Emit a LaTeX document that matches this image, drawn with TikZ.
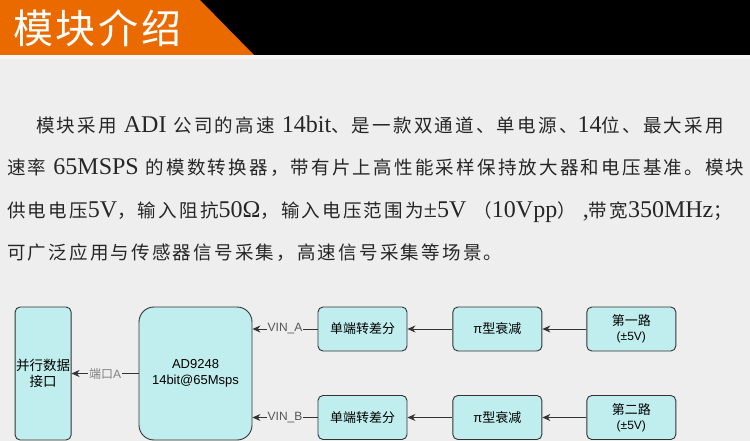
\documentclass[tikz,border=0pt]{standalone}
\usepackage{fontspec}
\setmainfont{Liberation Serif}
\newfontfamily\cjk{Noto Sans CJK SC}
\newfontfamily\cjkp[LetterSpace=12]{Noto Sans CJK SC}
\newfontfamily\titlefont[LetterSpace=7]{Noto Sans CJK SC}
\newfontfamily\arialf{Liberation Sans}
\usetikzlibrary{arrows.meta, positioning}
\definecolor{pagebg}   {HTML}{EEEEEE}
\definecolor{hdrorange}{HTML}{EB6A00}
\definecolor{boxfill}  {HTML}{C0EDED}
\definecolor{boxline}  {HTML}{333333}
\definecolor{lblgray}  {HTML}{555555}
\newcommand\zh[1]{{\cjkp\fontsize{18.5}{22}\selectfont #1}}
\newcommand\gap{\hspace{7pt}}

\begin{document}
\begin{tikzpicture}[
    x=1pt, y=-1pt,
    box/.style={draw=boxline, fill=boxfill, rounded corners=5pt, line width=0.9pt,
                minimum width=89pt, minimum height=44pt, inner sep=1pt,
                align=center, font=\cjk\fontsize{13}{15}\selectfont},
    arr/.style={-{Stealth[length=8pt, width=7pt]}, line width=0.9pt, color=boxline},
    lbl/.style={fill=pagebg, inner sep=1pt, text=lblgray,
                font=\arialf\fontsize{12}{14}\selectfont},
    para/.style={anchor=base west, inner sep=0pt, text=black!85,
                 font=\fontsize{24}{28}\selectfont},
  ]
    \useasboundingbox (0,0) rectangle (750,441);
    \fill[pagebg] (0,0) rectangle (750,441);
    \fill[black] (0,0) rectangle (750,55);
    \fill[hdrorange] (0,0) -- (200,0) -- (254,55) -- (0,55) -- cycle;
    \fill[white!50!pagebg] (0,55) rectangle (750,59);

    \node[anchor=west, inner sep=0pt, text=white,
          font=\titlefont\fontsize{40}{44}\selectfont] (title) at (13,28) {模块介绍};

    \node[para] (line1) at (36,133)
      {\zh{模块采用}\gap ADI\gap\zh{公司的高速}\gap 14bit\zh{、是一款双通道、单电源、}14\zh{位、最大采用}};
    \node[para] (line2) at (7,175)
      {\zh{速率}\gap 65MSPS\gap\zh{的模数转换器，带有片上高性能采样保持放大器和电压基准。模块}};
    \node[para] (line3) at (7,217)
      {\zh{供电电压}5V\zh{，输入阻抗}50Ω\zh{，输入电压范围为}±5V\gap\zh{（}10Vpp\zh{）}\gap,\zh{带宽}350MHz\zh{；}};
    \node[para] (line4) at (7,259)
      {\zh{可广泛应用与传感器信号采集，高速信号采集等场景。}};

    \node[box, minimum width=113pt, minimum height=133pt, rounded corners=15pt,
          font=\arialf\fontsize{13}{16}\selectfont] (adc) at (195.5,373.5)
      {AD9248\\14bit@65Msps};
    \node[box, minimum width=55pt, minimum height=133pt, left=67pt of adc,
          font=\cjk\fontsize{13.5}{16}\selectfont] (port) {并行数据\\接口};

    \node[box] (convA) at (362.5,329) {单端转差分};
    \node[box, right=45pt of convA] (attA) {{\arialf π}型衰减};
    \node[box, right=44pt of attA] (srcA)
      {第一路\\{\arialf\fontsize{12}{14}\selectfont(±5V)}};

    \node[box] (convB) at (362.5,417.5) {单端转差分};
    \node[box, right=45pt of convB] (attB) {{\arialf π}型衰减};
    \node[box, right=44pt of attB] (srcB)
      {第二路\\{\arialf\fontsize{12}{14}\selectfont(±5V)}};

    \coordinate (inA) at (adc.east |- convA);
    \coordinate (inB) at (adc.east |- convB);

    \draw[arr] (adc.west) -- node[lbl, text=gray] {{\cjk 端口}A} (port.east);
    \draw[arr] (convA) -- node[lbl] {VIN\_A} (inA);
    \draw[arr] (convB) -- node[lbl] {VIN\_B} (inB);
    \draw[arr] (attA) -- (convA);
    \draw[arr] (attB) -- (convB);
    \draw[arr] (srcA) -- (attA);
    \draw[arr] (srcB) -- (attB);
  \end{tikzpicture}
\end{document}
